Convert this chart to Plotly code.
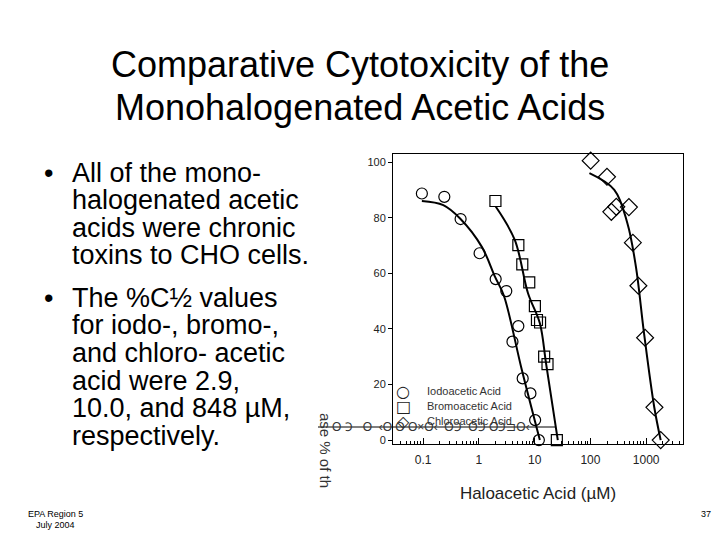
import plotly.graph_objects as go

# ---------------- data ----------------
iodo_x = [0.095, 0.24, 0.47, 1.03, 2.0, 3.1, 4.0, 5.1, 6.1, 8.4, 10.2, 11.9]
iodo_y = [88.7, 87.5, 79.5, 67.2, 57.9, 53.6, 35.4, 41.0, 22.2, 16.8, 7.2, 0.0]

bromo_x = [1.98, 5.1, 6.0, 8.0, 10.1, 11.0, 12.5, 14.8, 17.0, 25.0]
bromo_y = [86.0, 70.1, 63.2, 56.7, 48.2, 43.2, 42.3, 30.0, 27.3, 0.0]

chloro_x = [101, 198, 237, 291, 490, 577, 724, 955, 1405, 1820]
chloro_y = [100.5, 94.7, 82.1, 83.9, 83.8, 71.0, 55.5, 36.8, 11.8, 0.0]

# fitted curves
iodo_fit_x = [0.095, 0.23, 0.46, 1.13, 1.95, 2.8, 5.9, 12.4]
iodo_fit_y = [86.0, 84.5, 79.7, 69.5, 58.7, 52.0, 25.2, 0.0]

bromo_fit_x = [2.0, 4.4, 7.6, 12.4, 16.0, 26.0]
bromo_fit_y = [84.0, 72.0, 52.8, 42.0, 27.6, 0.0]

chloro_fit_x = [96, 268, 460, 655, 915, 1390, 1820]
chloro_fit_y = [96.0, 90.0, 78.0, 62.3, 38.4, 12.0, 0.0]

series_names = ["Iodoacetic Acid", "Bromoacetic Acid", "Chloroacetic Acid"]
legend_glyphs = ["○", "□", "◇"]
y_ticks = [0, 20, 40, 60, 80, 100]
x_ticks = [0.1, 1, 10, 100, 1000]
x_tick_labels = ["0.1", "1", "10", "100", "1000"]

title_lines = ["Comparative Cytotoxicity of the", "Monohalogenated Acetic Acids"]
bullet1 = ["All of the mono-", "halogenated acetic", "acids were chronic",
           "toxins to CHO cells."]
bullet2 = ["The %C½ values", "for iodo-, bromo-,", "and chloro- acetic",
           "acid were 2.9,", "10.0, and 848 µM,", "respectively."]

W, H = 720, 540
OFF = 8  # page body margin in the browser
FONT = "Liberation Sans, Arial, sans-serif"


def py(p):
    return 1 - (p - OFF) / H


def px(p):
    return (p - OFF) / W


fig = go.Figure()

symbols = ["circle-open", "square-open", "diamond-open"]
sizes = [11, 11, 13]
pts = [(iodo_x, iodo_y), (bromo_x, bromo_y), (chloro_x, chloro_y)]
fits = [(iodo_fit_x, iodo_fit_y), (bromo_fit_x, bromo_fit_y),
        (chloro_fit_x, chloro_fit_y)]

for (fx, fy) in fits:
    fig.add_trace(go.Scatter(x=fx, y=fy, mode="lines", showlegend=False,
                             line=dict(color="black", width=2, shape="spline",
                                       smoothing=1.0),
                             hoverinfo="skip", cliponaxis=False))

for name, (xs, ys), sym, sz in zip(series_names, pts, symbols, sizes):
    fig.add_trace(go.Scatter(x=xs, y=ys, mode="markers", name=name,
                             showlegend=False,
                             marker=dict(symbol=sym, size=sz, color="black",
                                         line=dict(width=1.2, color="black")),
                             cliponaxis=False))

minor_vals = []
for dec in [0.01, 0.1, 1, 10, 100, 1000]:
    for k in range(2, 10):
        minor_vals.append(dec * k)

fig.update_xaxes(type="log", range=[-1.54, 3.66],
                 domain=[px(393), px(683)], automargin=False,
                 tickvals=x_ticks, ticktext=x_tick_labels,
                 ticks="inside", ticklen=6, tickcolor="black",
                 ticklabelstandoff=5,
                 showline=True, linecolor="black", linewidth=1, mirror=True,
                 showgrid=False, zeroline=False,
                 tickfont=dict(family=FONT, size=12, color="#222"),
                 minor=dict(tickvals=minor_vals, ticks="inside", ticklen=3,
                            tickcolor="black", showgrid=False),
                 title=dict(text="Haloacetic Acid (µM)",
                            font=dict(family=FONT, size=17, color="#222"),
                            standoff=20))
fig.update_yaxes(range=[-1.4, 102.9], domain=[py(444), py(154)],
                 automargin=False,
                 tickvals=y_ticks, ticks="outside", ticklen=4,
                 tickcolor="black",
                 showline=True, linecolor="black", linewidth=1, mirror=True,
                 showgrid=False, zeroline=False,
                 tickfont=dict(family=FONT, size=11, color="#222"))

annotations = []
# title
for i, line in enumerate(title_lines):
    annotations.append(dict(text=line, x=px(360), y=py(64 + 43 * i),
                            xref="paper", yref="paper", showarrow=False,
                            xanchor="center", yanchor="middle",
                            font=dict(family=FONT, size=36, color="black")))
# bullets
for start, lines in [(173, bullet1), (298, bullet2)]:
    annotations.append(dict(text="•", x=px(42), y=py(start),
                            xref="paper", yref="paper", showarrow=False,
                            xanchor="left", yanchor="middle",
                            font=dict(family=FONT, size=27, color="black")))
    for j, line in enumerate(lines):
        annotations.append(dict(text=line, x=px(70), y=py(start + 27.5 * j),
                                xref="paper", yref="paper", showarrow=False,
                                xanchor="left", yanchor="middle",
                                font=dict(family=FONT, size=27,
                                          color="black")))
# legend drawn as text (inside the plot, lower left)
for k, (glyph, name) in enumerate(zip(legend_glyphs, series_names)):
    yy = 391 + 15 * k
    annotations.append(dict(text=glyph, x=px(403), y=py(yy), xref="paper",
                            yref="paper", showarrow=False, xanchor="center",
                            yanchor="middle",
                            font=dict(family="DejaVu Sans", size=16,
                                      color="#222")))
    annotations.append(dict(text=name, x=px(425), y=py(yy), xref="paper",
                            yref="paper", showarrow=False, xanchor="left",
                            yanchor="middle",
                            font=dict(family=FONT, size=11, color="#333")))
# footer
for txt, xx, yy in [("EPA Region 5", 55, 514), ("July 2004", 55, 525)]:
    annotations.append(dict(text=txt, x=px(xx), y=py(yy), xref="paper",
                            yref="paper", showarrow=False, xanchor="center",
                            yanchor="middle",
                            font=dict(family=FONT, size=9, color="black")))
annotations.append(dict(text="37", x=px(706), y=py(514), xref="paper",
                        yref="paper", showarrow=False, xanchor="center",
                        yanchor="middle",
                        font=dict(family=FONT, size=9, color="black")))
# garbled remnant of the original y-axis title
annotations.append(dict(text="ase % of th", x=px(326), y=py(450),
                        xref="paper", yref="paper", showarrow=False,
                        textangle=90, xanchor="center", yanchor="middle",
                        font=dict(family=FONT, size=15, color="#333")))
annotations.append(dict(text="O Ↄ   O  ‹O O O×O‹  OↃ  OↃ OↃ⊐O‹",
                        x=px(330), y=py(427), xref="paper", yref="paper",
                        showarrow=False, xanchor="left", yanchor="middle",
                        font=dict(family=FONT, size=12, color="#333")))

fig.update_layout(
    width=W, height=H,
    margin=dict(l=0, r=0, t=0, b=0, autoexpand=False),
    paper_bgcolor="white", plot_bgcolor="white",
    annotations=annotations,
    shapes=[dict(type="line", xref="paper", yref="paper",
                 x0=px(318), x1=px(555), y0=py(427), y1=py(427),
                 line=dict(color="black", width=1))],
    font=dict(family=FONT),
    showlegend=False,
)

fig.write_html("out.html")
